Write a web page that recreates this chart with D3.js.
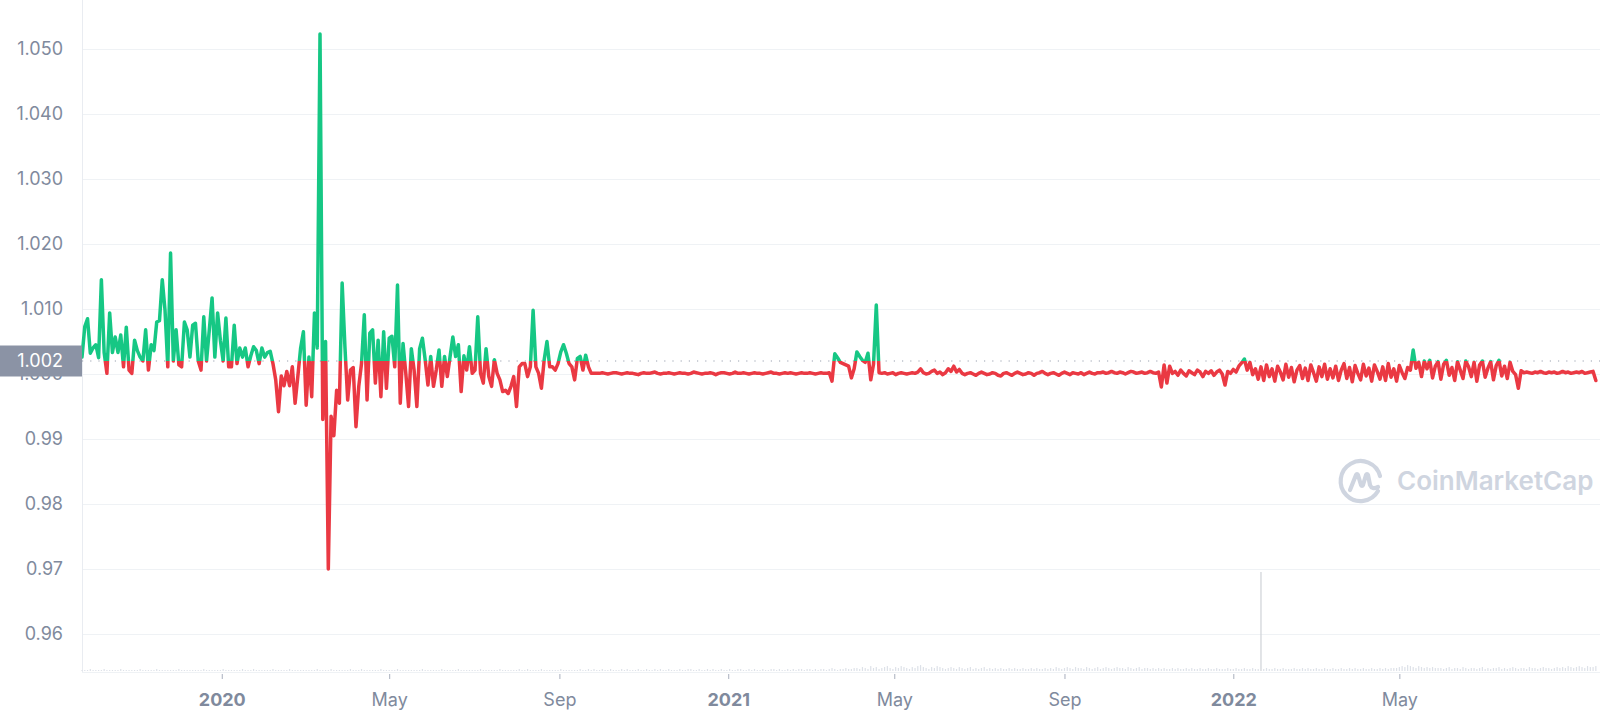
<!DOCTYPE html>
<html><head><meta charset="utf-8">
<script src="https://cdn.jsdelivr.net/npm/d3@7"></script>
<style>
html,body{margin:0;padding:0;background:#fff;overflow:hidden;}
svg{display:block;font-family:Inter,"Noto Sans",sans-serif;}
</style></head><body>
<svg id="chart" width="1600" height="719"></svg>
<script>
// ---------- DATA ----------
const startDate = "2019-09-22";   // first sample
const stepDays = 2;               // one sample every two days
const endDate = "2022-09-23";
const baselinePrice = 1.002;

const prices = [
1.0026,1.0073,1.0085,1.0032,1.0040,1.0045,1.0025,1.0145,1.0033,1.0001,
1.0094,1.0033,1.0057,1.0033,1.0060,1.0011,1.0072,1.0006,1.0001,1.0052,
1.0036,1.0026,1.0020,1.0068,1.0006,1.0045,1.0036,1.0080,1.0082,1.0145,
1.0098,1.0011,1.0186,1.0020,1.0068,1.0014,1.0011,1.0080,1.0068,1.0026,
1.0075,1.0078,1.0020,1.0006,1.0088,1.0020,1.0068,1.0117,1.0026,1.0094,
1.0052,1.0020,1.0086,1.0011,1.0011,1.0075,1.0016,1.0040,1.0026,1.0040,
1.0011,1.0028,1.0042,1.0036,1.0016,1.0040,1.0026,1.0033,1.0035,1.0016,
0.9991,0.9942,0.9997,0.9982,1.0004,0.9982,1.0011,0.9955,0.9997,1.0040,
1.0065,0.9952,1.0026,0.9965,1.0094,1.0040,1.0523,0.9930,1.0050,0.9700,
0.9935,0.9905,0.9975,0.9955,1.0140,
1.0042,0.9960,1.0006,1.0010,0.9919,0.9981,1.0016,1.0091,0.9960,
1.0063,1.0068,0.9986,1.0052,0.9965,1.0065,0.9978,1.0055,1.0058,1.0011,
1.0137,0.9955,1.0047,1.0001,0.9950,1.0039,1.0006,0.9950,1.0039,1.0055,
1.0022,0.9983,1.0027,0.9981,1.0006,1.0037,0.9981,1.0027,0.9996,1.0027,
1.0057,1.0027,1.0045,0.9973,1.0028,1.0006,1.0042,1.0001,1.0006,1.0088,
1.0001,0.9986,1.0039,0.9996,0.9981,1.0022,1.0001,0.9991,0.9973,0.9975,
0.9970,0.9981,0.9996,0.9950,1.0011,1.0016,1.0016,0.9996,1.0011,1.0098,
1.0011,1.0001,0.9978,1.0022,1.0050,1.0011,1.0011,1.0006,1.0016,1.0034,
1.0045,1.0032,1.0016,1.0011,0.9991,1.0024,1.0027,1.0006,1.0029,1.0011,
1.0001,1.0001,
1.0001,1.0001,1.0002,1.0001,1.0000,1.0001,1.0002,1.0002,1.0001,1.0000,
1.0001,1.0002,1.0001,1.0001,1.0000,0.9999,1.0001,1.0002,1.0001,1.0001,
1.0002,1.0003,1.0001,1.0000,1.0001,1.0001,1.0002,1.0001,1.0000,1.0001,
1.0002,1.0001,1.0001,1.0000,1.0001,1.0003,1.0002,1.0001,1.0000,1.0001,
1.0001,1.0002,1.0001,0.9999,1.0001,1.0002,1.0002,1.0001,1.0000,1.0001,
1.0003,1.0001,1.0001,1.0002,1.0001,1.0000,1.0001,1.0002,1.0001,1.0001,
1.0000,1.0001,1.0002,1.0003,1.0001,1.0001,1.0000,1.0001,1.0002,1.0001,
1.0002,1.0001,1.0000,1.0001,1.0002,1.0001,1.0001,1.0002,1.0001,1.0000,
1.0001,1.0002,1.0001,1.0001,1.0002,
0.9989,1.0031,1.0025,1.0018,1.0016,1.0014,1.0012,0.9994,1.0008,1.0034,
1.0027,1.0021,1.0018,1.0032,0.9991,1.0015,1.0106,1.0002,
1.0001,1.0002,1.0000,1.0001,1.0002,0.9999,1.0001,1.0002,1.0001,1.0000,
1.0001,1.0002,1.0001,1.0003,1.0008,1.0002,1.0000,1.0001,1.0004,1.0006,
1.0001,1.0003,0.9999,1.0002,1.0008,1.0004,1.0012,1.0003,1.0007,1.0001,
0.9999,1.0001,1.0002,1.0000,0.9998,1.0001,1.0003,1.0001,0.9999,1.0000,
1.0002,1.0001,0.9998,0.9997,1.0001,1.0002,1.0000,0.9998,1.0001,1.0003,
1.0001,0.9999,1.0000,1.0002,1.0001,0.9998,1.0001,1.0002,1.0004,1.0001,
0.9999,1.0001,1.0002,1.0000,0.9998,1.0001,1.0003,1.0001,0.9999,1.0002,
1.0001,1.0000,1.0002,0.9999,1.0001,1.0003,1.0001,1.0000,1.0002,
1.0002,1.0003,1.0001,1.0002,1.0004,1.0002,1.0001,1.0003,1.0002,1.0000,
1.0002,1.0004,1.0003,1.0001,1.0002,1.0003,1.0001,1.0002,1.0004,1.0002,
1.0001,1.0003,
0.9980,1.0014,0.9986,1.0012,1.0001,
1.0004,0.9998,1.0006,1.0001,0.9997,1.0005,1.0002,0.9999,1.0006,1.0003,
0.9996,1.0004,1.0001,1.0005,0.9998,1.0003,1.0006,1.0000,0.9983,1.0004,
1.0001,1.0007,1.0003,
1.0012,1.0017,1.0023,1.0006,1.0018,0.9999,1.0008,
0.9992,1.0011,0.9990,1.0014,0.9996,1.0008,0.9989,1.0012,1.0003,0.9991,
1.0015,0.9995,1.0010,0.9988,1.0006,1.0013,0.9993,1.0009,0.9990,1.0014,
1.0002,0.9989,1.0011,0.9996,1.0015,0.9992,1.0008,0.9994,
1.0012,0.9990,1.0006,1.0016,0.9993,1.0010,0.9988,1.0013,1.0001,0.9991,
1.0015,0.9997,1.0009,0.9989,1.0014,1.0004,0.9992,1.0011,0.9990,1.0016,
0.9995,1.0008,0.9989,1.0013,1.0002,0.9993,1.0010,1.0006,
1.0037,
1.0009,1.0018,0.9996,1.0020,1.0008,1.0021,0.9994,1.0012,1.0019,0.9992,
1.0015,1.0021,0.9998,1.0010,0.9990,1.0019,1.0006,0.9993,1.0020,1.0011,
0.9996,1.0018,0.9989,1.0014,1.0020,0.9995,1.0009,1.0019,0.9991,1.0013,
1.0021,0.9997,1.0012,0.9993,1.0018,1.0004,0.9999,
0.9978,1.0005,
1.0002,1.0003,1.0002,1.0001,1.0003,1.0002,1.0004,1.0002,1.0001,1.0003,
1.0002,1.0003,1.0001,1.0002,1.0004,1.0002,1.0003,1.0001,1.0002,1.0003,
1.0002,1.0004,1.0001,1.0002,1.0003,1.0004,0.9990
];

// trading volume, relative units (bar heights)
const volumes = [
1,1,1,2,1,1,1,1,2,1,1,1,1,1,2,1,1,1,1,1,
1,2,1,1,1,1,1,2,1,1,1,1,1,1,1,2,1,1,1,1,
1,1,1,1,2,1,1,1,1,1,1,2,1,1,1,1,1,1,2,1,
1,1,2,1,1,1,1,1,1,2,1,1,1,1,1,2,1,1,1,1,
1,1,1,1,1,2,1,1,1,1,2,1,1,1,1,1,1,2,1,1,
1,2,1,1,1,1,1,1,2,1,1,1,1,1,2,1,1,1,1,1,
1,1,1,2,1,1,1,1,1,1,2,1,1,1,1,1,2,1,1,1,
1,1,1,1,2,1,1,1,1,1,1,2,1,1,1,1,1,1,2,1,
1,2,1,1,1,1,2,1,1,1,1,1,1,2,1,1,1,1,1,1,
2,1,1,2,1,2,1,1,2,1,1,2,1,1,1,2,1,2,1,1,
1,2,1,1,2,1,1,2,1,2,1,1,2,1,1,1,2,1,1,2,
2,1,1,2,1,1,2,1,2,1,1,2,1,1,2,1,1,2,2,1,
1,2,1,2,1,1,2,1,1,2,2,1,2,1,1,2,1,2,1,2,
2,1,2,2,1,2,1,2,2,1,2,3,2,1,2,2,3,2,2,3,
3,2,4,3,2,5,3,4,2,3,4,5,3,2,4,3,5,4,3,2,
4,3,5,6,4,3,2,4,3,5,4,3,2,3,4,3,2,4,3,2,
3,4,2,3,2,3,4,2,3,2,3,
2,3,2,2,3,2,3,2,2,3,2,2,3,2,3,2,2,3,2,
3,2,4,3,2,3,4,3,2,4,3,3,2,4,3,2,3,4,2,3,
4,3,2,3,4,3,3,2,4,3,2,3,4,2,3,3,2,3,2,3,
2,3,2,2,3,2,3,2,2,3,
2,3,2,2,3,2,2,3,2,2,3,2,2,2,3,2,2,3,2,2,3,2,2,3,2,2,
100,
2,3,2,2,3,2,2,3,2,2,2,3,2,2,3,2,3,2,2,3,
2,2,3,2,2,3,2,2,3,2,2,3,2,3,2,2,3,2,2,3,
2,2,3,2,3,2,3,3,
3,4,5,4,6,5,4,3,5,4,3,4,3,4,3,3,
3,2,3,4,2,3,3,2,4,3,2,3,3,2,3,4,2,3,2,3,
3,4,2,3,2,3,4,3,2,3,3,2,4,3,3,2,3,4,3,3,
2,3,4,3,
4,3,5,4,3,4,5,4,3,5,4,4,5
];

const yTicks = [1.05, 1.04, 1.03, 1.02, 1.01, 1.00, 0.99, 0.98, 0.97, 0.96];
const xTickDates = ["2020-01-01","2020-05-01","2020-09-01","2021-01-01","2021-05-01","2021-09-01","2022-01-01","2022-05-01"];
const xTickLabels = ["2020","May","Sep","2021","May","Sep","2022","May"];
const watermarkText = "CoinMarketCap";

// ---------- CHART ----------
const W = 1600, H = 719;
const left = 82, right = 1600, axisY = 672;
const parse = d3.utcParse("%Y-%m-%d");
const t0 = parse(startDate);
const series = prices.map((p, i) => ({ date: d3.utcDay.offset(t0, i * stepDays), price: p, vol: volumes[i] }));

const x = d3.scaleUtc().domain([t0, parse(endDate)]).range([left, right]);
const y = d3.scaleLinear().domain([0.96, 1.05]).range([634, 49]);
const yVol = d3.scaleLinear().domain([0, 100]).range([axisY - 1, 572]);

const svg = d3.select("#chart");
const GREEN = "#16c784", RED = "#ea3943", GREY = "#808a9d";

// gridlines
svg.append("g").attr("transform", `translate(${left},0)`)
  .call(d3.axisLeft(y).tickValues(yTicks).tickSize(-(right - left)).tickFormat(""))
  .call(g => g.select(".domain").remove())
  .call(g => g.selectAll("line").attr("stroke", "#eff2f5").attr("stroke-width", 1));

// left border
svg.append("line").attr("x1", left + 0.5).attr("x2", left + 0.5).attr("y1", 0).attr("y2", axisY)
  .attr("stroke", "#e9ecf1");

// watermark
const wm = svg.append("g").attr("transform", "translate(1361,481)");
wm.append("path")
  .attr("d", "M 17 10 A 20 20 0 1 1 19 -5")
  .attr("fill", "none").attr("stroke", "#cfd5e0").attr("stroke-width", 4.2).attr("stroke-linecap", "round");
wm.append("path")
  .attr("d", "M -11 9 L -5 -6 Q -4 -8 -3 -6 L 0 4 Q 1 6 2 4 L 5 -6 Q 6 -8 7 -6 L 9 4 Q 11 9 17 6")
  .attr("fill", "none").attr("stroke", "#cfd5e0").attr("stroke-width", 4.2).attr("stroke-linecap", "round").attr("stroke-linejoin", "round");
svg.append("text").attr("x", 1397).attr("y", 490).attr("font-size", 26).attr("font-weight", 600)
  .attr("fill", "#cfd5e0").text(watermarkText);

// volume bars
svg.append("g").selectAll("rect").data(series).join("rect")
  .attr("x", d => x(d.date) - 0.6)
  .attr("width", 1.2)
  .attr("y", d => yVol(d.vol))
  .attr("height", d => yVol(0) - yVol(d.vol))
  .attr("fill", d => d.vol > 50 ? "#cfd2d8" : "#dde1e8");

// bottom axis
const xAxis = svg.append("g").attr("transform", `translate(0,${axisY})`)
  .call(d3.axisBottom(x).tickValues(xTickDates.map(parse)).tickSize(6)
        .tickFormat((d, i) => xTickLabels[i]));
xAxis.select(".domain").attr("stroke", "#eff2f5").attr("d", `M${left},0.5H${right}`);
xAxis.selectAll(".tick line").attr("stroke", "#a8afbd").attr("y1", 2).attr("y2", 7);
xAxis.selectAll(".tick text")
  .attr("y", 34).attr("dy", 0)
  .attr("fill", GREY).attr("font-size", 18)
  .attr("font-family", "Inter, 'Noto Sans', sans-serif")
  .attr("font-weight", (d, i) => /^\d{4}$/.test(xTickLabels[i]) ? 700 : 400);

// left axis labels
const yAxis = svg.append("g").attr("transform", `translate(${left},0)`)
  .call(d3.axisLeft(y).tickValues(yTicks).tickSize(0).tickPadding(19)
        .tickFormat(d => d >= 1 ? d.toFixed(3) : d.toFixed(2)));
yAxis.select(".domain").remove();
yAxis.selectAll("text").attr("fill", GREY).attr("font-size", 18)
  .attr("font-family", "Inter, 'Noto Sans', sans-serif");

// baseline (dotted)
svg.append("line").attr("x1", left).attr("x2", right)
  .attr("y1", y(baselinePrice)).attr("y2", y(baselinePrice))
  .attr("stroke", "#9aa1b0").attr("stroke-width", 1.2).attr("stroke-dasharray", "1.2,7");

// price line with two-tone gradient split at baseline
const defs = svg.append("defs");
const grad = defs.append("linearGradient").attr("id", "splitGrad")
  .attr("gradientUnits", "userSpaceOnUse").attr("x1", 0).attr("x2", 0).attr("y1", 0).attr("y2", H);
const off = y(baselinePrice) / H;
grad.append("stop").attr("offset", 0).attr("stop-color", GREEN);
grad.append("stop").attr("offset", off).attr("stop-color", GREEN);
grad.append("stop").attr("offset", off).attr("stop-color", RED);
grad.append("stop").attr("offset", 1).attr("stop-color", RED);

svg.append("path").datum(series)
  .attr("fill", "none").attr("stroke", "url(#splitGrad)")
  .attr("stroke-width", 3.5).attr("stroke-linejoin", "round").attr("stroke-linecap", "round")
  .attr("d", d3.line().x(d => x(d.date)).y(d => y(d.price)));

// baseline price tag
const tag = svg.append("g");
tag.append("rect").attr("x", 0).attr("y", y(baselinePrice) - 15.5).attr("width", left).attr("height", 31)
  .attr("fill", "#8b93a5");
tag.append("text").attr("x", left - 19).attr("y", y(baselinePrice)).attr("dy", "0.35em")
  .attr("text-anchor", "end").attr("fill", "#fff").attr("font-size", 18)
  .text(baselinePrice.toFixed(3));
</script>
</body></html>
